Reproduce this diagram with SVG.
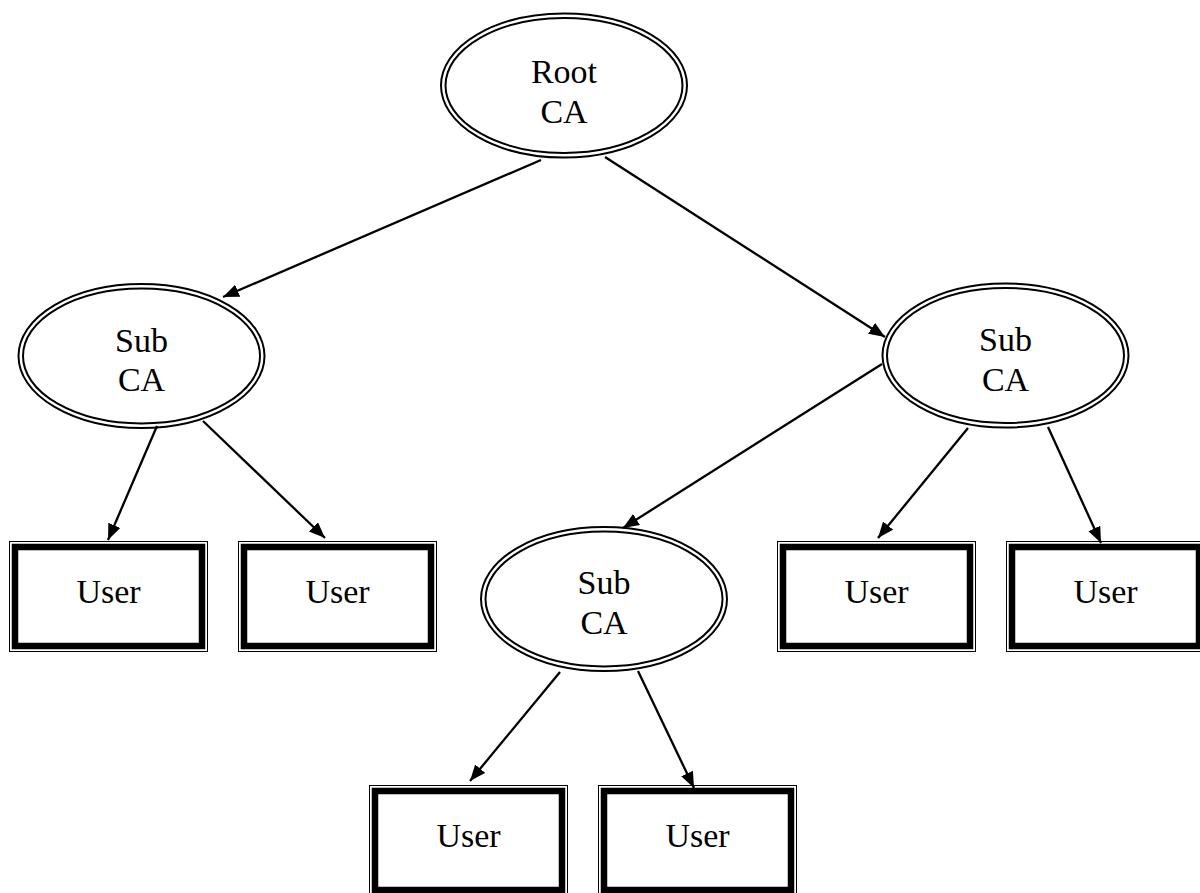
<svg xmlns="http://www.w3.org/2000/svg" width="1200" height="893" viewBox="0 0 1200 893">
<style>
  .ell { fill: none; stroke: #000; stroke-width: 2; }
  .thin { fill: none; stroke: #000; stroke-width: 1; }
  .thick { fill: #fff; stroke: #000; stroke-width: 6.5; }
  .lbl { font-family: "Liberation Serif", "Times New Roman", serif; font-size: 34px; fill: #000; text-anchor: middle; }
  .edge { stroke: #000; stroke-width: 2.3; fill: none; marker-end: url(#arr); }
</style>
<defs>
  <marker id="arr" markerUnits="userSpaceOnUse" markerWidth="18" markerHeight="14" refX="16" refY="6.5" orient="auto">
    <path d="M0,0 L16,6.5 L0,13 Z" fill="#000"/>
  </marker>
</defs>
<rect width="1200" height="893" fill="#fff"/>

<g id="connectors">
  <line class="edge" x1="541" y1="160" x2="223" y2="297"/>
  <line class="edge" x1="605" y1="157" x2="885" y2="337"/>
  <line class="edge" x1="157" y1="426" x2="108" y2="540"/>
  <line class="edge" x1="203" y1="421" x2="325" y2="538"/>
  <line class="edge" x1="882" y1="364" x2="623" y2="528"/>
  <line class="edge" x1="968" y1="428" x2="878" y2="538"/>
  <line class="edge" x1="1048" y1="427" x2="1101" y2="543"/>
  <line class="edge" x1="560" y1="672" x2="470" y2="781"/>
  <line class="edge" x1="638" y1="671" x2="694" y2="788"/>
</g>

<g id="root-ca">
  <ellipse class="ell" cx="564" cy="85.5" rx="123" ry="72"/>
  <ellipse class="ell" cx="564" cy="85.5" rx="118.5" ry="67.5"/>
  <text class="lbl" x="564" y="82.5">Root</text>
  <text class="lbl" x="564" y="123">CA</text>
</g>

<g id="sub-ca-left">
  <ellipse class="ell" cx="141.5" cy="356" rx="123" ry="72"/>
  <ellipse class="ell" cx="141.5" cy="356" rx="118.5" ry="67.5"/>
  <text class="lbl" x="141.5" y="351.5">Sub</text>
  <text class="lbl" x="141.5" y="391">CA</text>
</g>

<g id="sub-ca-right">
  <ellipse class="ell" cx="1005.5" cy="355.5" rx="123" ry="72"/>
  <ellipse class="ell" cx="1005.5" cy="355.5" rx="118.5" ry="67.5"/>
  <text class="lbl" x="1005.5" y="351">Sub</text>
  <text class="lbl" x="1005.5" y="391">CA</text>
</g>

<g id="sub-ca-middle">
  <ellipse class="ell" cx="604" cy="599" rx="123" ry="72"/>
  <ellipse class="ell" cx="604" cy="599" rx="118.5" ry="67.5"/>
  <text class="lbl" x="604" y="594">Sub</text>
  <text class="lbl" x="604" y="634">CA</text>
</g>

<g id="user-1">
  <rect class="thin" x="9.5" y="541.5" width="198" height="110"/>
  <rect class="thick" x="15" y="547" width="187" height="99"/>
  <text class="lbl" x="108.5" y="603">User</text>
</g>
<g id="user-2">
  <rect class="thin" x="238.5" y="541.5" width="198" height="110"/>
  <rect class="thick" x="244" y="547" width="187" height="99"/>
  <text class="lbl" x="337.5" y="603">User</text>
</g>
<g id="user-3">
  <rect class="thin" x="777.5" y="541.5" width="198" height="110"/>
  <rect class="thick" x="783" y="547" width="187" height="99"/>
  <text class="lbl" x="876.5" y="603">User</text>
</g>
<g id="user-4">
  <rect class="thin" x="1006.5" y="541.5" width="198" height="110"/>
  <rect class="thick" x="1012" y="547" width="187" height="99"/>
  <text class="lbl" x="1105.5" y="603">User</text>
</g>
<g id="user-5">
  <rect class="thin" x="369.5" y="785.5" width="198" height="110"/>
  <rect class="thick" x="375" y="791" width="187" height="99"/>
  <text class="lbl" x="468.5" y="847">User</text>
</g>
<g id="user-6">
  <rect class="thin" x="598.5" y="785.5" width="198" height="110"/>
  <rect class="thick" x="604" y="791" width="187" height="99"/>
  <text class="lbl" x="697.5" y="847">User</text>
</g>
</svg>
